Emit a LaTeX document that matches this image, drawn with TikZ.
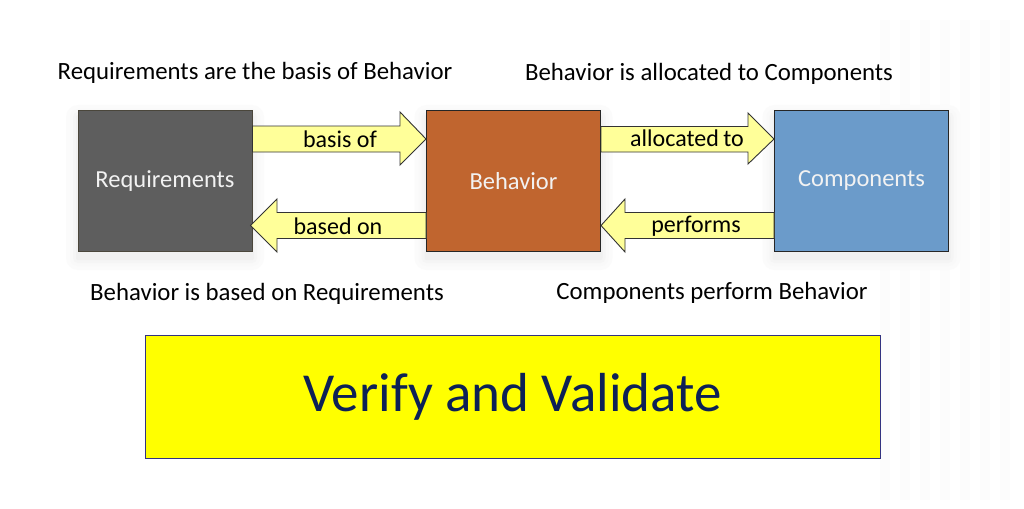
\documentclass[tikz,border=0pt]{standalone}
\usepackage{fontspec}
\setmainfont{Carlito}
\usetikzlibrary{calc}
\definecolor{reqfill}{HTML}{5E5E5E}
\definecolor{behfill}{HTML}{C0652F}
\definecolor{compfill}{HTML}{6B9BCA}
\definecolor{arrfill}{HTML}{FFFF99}
\definecolor{navy}{HTML}{0D2156}
\definecolor{pureyellow}{HTML}{FFFF00}
\tikzset{
  block/.style={draw=#1, line width=1pt, minimum width=174pt, minimum height=141pt, inner sep=0pt, text=white!95!black, font=\fontsize{24.5}{28}\selectfont},
  blockarrow/.style={draw=black!80, line width=0.9pt, fill=arrfill, line join=miter},
  arrlabel/.style={inner sep=0pt, font=\fontsize{24}{28}\selectfont},
  caption/.style={inner sep=0pt, font=\fontsize{24.8}{28}\selectfont}
}
\begin{document}
\begin{tikzpicture}[x=1pt,y=-1pt]
\useasboundingbox (0,0) rectangle (1024,508);
\fill[white] (0,0) rectangle (1024,508);
% very faint background grid on the right
\foreach \i in {0,...,6} {
  \fill[black!1.2] (880+\i*20,20) rectangle (890+\i*20,500);
}
% soft shadows behind the three blocks
\foreach \cx in {165,513.5,861.5} {
  \foreach \d/\c in {12/1.5,8/2.5,5/4,2/6} {
    \fill[black!\c, rounded corners=\d pt] (\cx-87-\d,112-\d+5) rectangle (\cx+87+\d,253+\d+5);
  }
}

\node[block=black!70!yellow!60!black, fill=reqfill] (req) at (165,181) {Requirements};
\node[block=black!85, fill=behfill] (beh) at (513.5,181) {Behavior};
\node[block=black!85, fill=compfill] (comp) at (861.5,181) {Components};

% basis of
\draw[blockarrow] ($(req.east)+(0,-55)$) -- (400,126) -- (400,112) -- ($(beh.west)+(0,-42)$) -- (400,165) -- (400,152) -- ($(req.east)+(0,-29)$) -- cycle;
\node[arrlabel] (l1) at (340,139) {basis of};
% based on
\draw[blockarrow] ($(beh.west)+(0,31.5)$) -- (277,212.5) -- (277,199) -- ($(req.east)+(-2,44.5)$) -- (277,252) -- (277,238.5) -- ($(beh.west)+(0,57.5)$) -- cycle;
\node[arrlabel] (l2) at (338,226) {based on};
% allocated to
\draw[blockarrow] ($(beh.east)+(0,-54.5)$) -- (748,126.5) -- (748,113) -- ($(comp.west)+(0,-42)$) -- (748,164) -- (748,152) -- ($(beh.east)+(0,-29)$) -- cycle;
\node[arrlabel] (l3) at (687,138) {allocated\kern-1pt\ to};
% performs
\draw[blockarrow] ($(comp.west)+(0,31.5)$) -- (625,212.5) -- (625,199) -- ($(beh.east)+(0,44.5)$) -- (625,252) -- (625,238.5) -- ($(comp.west)+(0,57.5)$) -- cycle;
\node[arrlabel] (l4) at (696,226) {performs};

% captions
\node[caption] (c1) at (255,73) {Requirements are the basis of Behavior};
\node[caption] (c2) at (709,74) {Behavior is allocated to Components};
\node[caption] (c3) at (267,294) {Behavior is based on Requirements};
\node[caption] (c4) at (712,293) {Components perform Behavior};

% verify and validate
\node[draw=black!50!blue!60!gray, line width=0.8pt, fill=pureyellow, minimum width=735pt, minimum height=123pt, inner sep=0pt, text=navy, font=\fontsize{55}{60}\selectfont] (vv) at (512.5,397) {\raisebox{-4pt}{Verify and Validate}};
\end{tikzpicture}
\end{document}
